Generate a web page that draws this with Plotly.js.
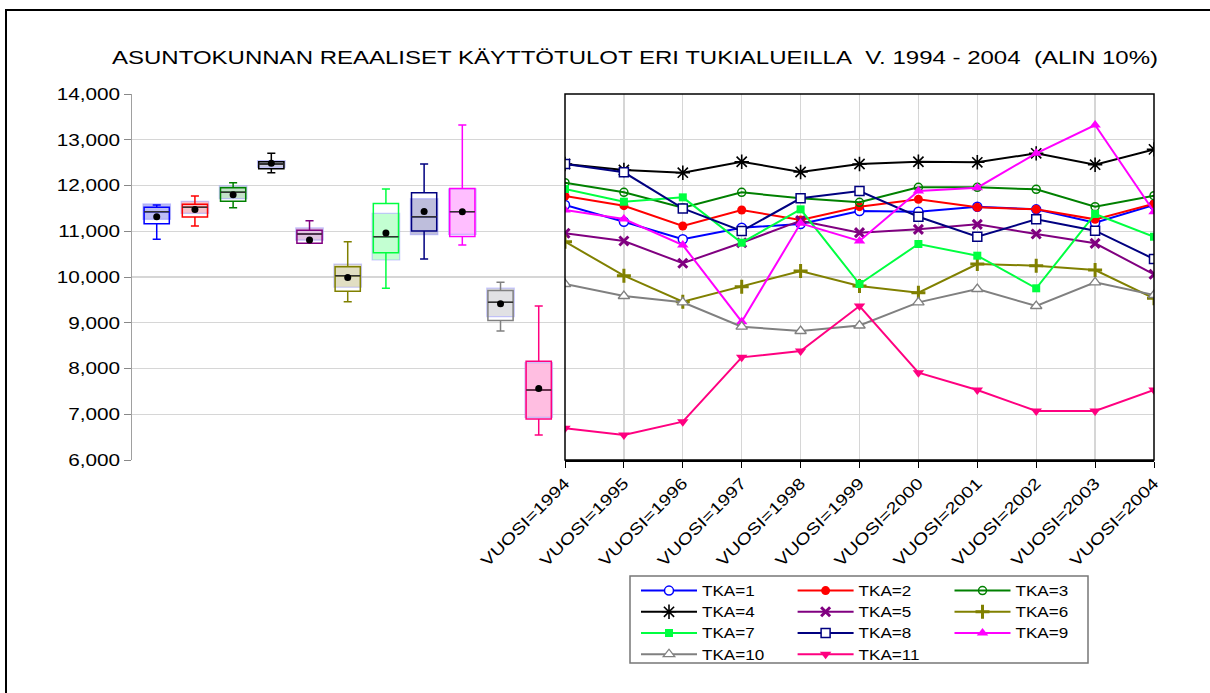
<!DOCTYPE html>
<html><head><meta charset="utf-8">
<script src="https://cdn.plot.ly/plotly-3.0.1.min.js"></script>
<style>
body{margin:0;background:#fff}
/* the reference's legend lettering is horizontally widened */
#chart .legendtext,
#chart [class^="legend"] text,
#chart .infolayer text:not(.gtitle){
  font-size:14px !important;
  font-family:'Liberation Sans', Arial, sans-serif !important;
  transform-box:fill-box; transform-origin:0 50%; transform:scaleX(1.22);
}
</style>
</head><body>
<div id="chart" style="width:1210px;height:693px"></div>
<script>
// ---------- data ----------
const years = [1994, 1995, 1996, 1997, 1998, 1999, 2000, 2001, 2002, 2003, 2004];
const yearLabels = ['VUOSI=1994','VUOSI=1995','VUOSI=1996','VUOSI=1997','VUOSI=1998','VUOSI=1999','VUOSI=2000','VUOSI=2001','VUOSI=2002','VUOSI=2003','VUOSI=2004'];
const seriesNames = ['TKA=1','TKA=2','TKA=3','TKA=4','TKA=5','TKA=6','TKA=7','TKA=8','TKA=9','TKA=10','TKA=11'];
const tka1  = [11574, 11209, 10824, 11078, 11159, 11443, 11428, 11537, 11479, 11187, 11575];
const tka2  = [11770, 11559, 11115, 11465, 11246, 11537, 11698, 11523, 11479, 11260, 11600];
const tka3  = [12061, 11851, 11515, 11851, 11720, 11633, 11960, 11960, 11916, 11537, 11778];
const tka4  = [12470, 12339, 12280, 12520, 12295, 12470, 12520, 12507, 12703, 12455, 12790];
const tka5  = [10955, 10787, 10300, 10750, 11231, 10969, 11042, 11151, 10940, 10736, 10059];
const tka6  = [10772, 10029,  9460,  9788, 10131,  9803,  9657, 10284, 10247, 10153,  9534];
const tka7  = [11923, 11646, 11741, 10750, 11479,  9847, 10721, 10466,  9753, 11377, 10880];
const tka8  = [12470, 12288, 11500, 11005, 11720, 11880, 11318, 10880, 11260, 11012, 10393];
const tka9  = [11465, 11268, 10699,  9023, 11173, 10787, 11880, 11952, 12703, 13322, 11428];
const tka10 = [ 9847,  9585,  9446,  8914,  8820,  8940,  9446,  9738,  9366,  9884,  9607];
const tka11 = [ 6692,  6546,  6838,  8244,  8383,  9366,  7909,  7530,  7071,  7071,  7530];
const allSeries = [tka1, tka2, tka3, tka4, tka5, tka6, tka7, tka8, tka9, tka10, tka11];

// ---------- styles ----------
const colors = ['#0000ff','#ff0000','#008000','#000000','#800080','#808000','#00ff40','#000080','#ff00ff','#808080','#ff0080'];
const bandColors = ['#bcbcf5','#f5c3cd','#c3e1c8','#cdcde1','#e1c3e1','#e1dec3','#c3ffd2','#bebedc','#ffbeff','#e1e1e4','#ffbee1'];
const markerStyles = [
  {symbol:'circle', color:'#ffffff', size:9, line:{color:'#0000ff', width:1.5}},
  {symbol:'circle', color:'#ff0000', size:9, line:{color:'#ff0000', width:0}},
  {symbol:'circle-open', color:'#008000', size:8, line:{width:1.5}},
  {symbol:'asterisk-open', color:'#000000', size:12, line:{width:1.6}},
  {symbol:'x-thin-open', color:'#800080', size:9, line:{width:3}},
  {symbol:'cross-thin-open', color:'#808000', size:10, line:{width:3}},
  {symbol:'square', color:'#00ff40', size:8, line:{color:'#00ff40', width:0}},
  {symbol:'square', color:'#ffffff', size:9, line:{color:'#000080', width:1.5}},
  {symbol:'triangle-up', color:'#ff00ff', size:10, line:{color:'#ff00ff', width:0}},
  {symbol:'triangle-up', color:'#ffffff', size:10, line:{color:'#808080', width:1.3}},
  {symbol:'triangle-down', color:'#ff0080', size:10, line:{color:'#ff0080', width:0}}
];
const legendOf = ['legend','legend2','legend3','legend','legend2','legend3','legend','legend2','legend3','legend','legend2'];
const FONT = 'Liberation Sans, Arial, sans-serif';

// ---------- statistics for box plots (Cleveland quantiles, 1.5 IQR whiskers) ----------
function quant(sorted, p) {
  const n = sorted.length;
  const h = p * n + 0.5;
  if (h <= 1) return sorted[0];
  if (h >= n) return sorted[n - 1];
  const lo = Math.floor(h);
  return sorted[lo - 1] + (h - lo) * (sorted[lo] - sorted[lo - 1]);
}
const positions = allSeries.map((s, i) => i + 1);
const stats = allSeries.map(s => {
  const srt = s.slice().sort((a, b) => a - b);
  const q1 = quant(srt, 0.25), med = quant(srt, 0.5), q3 = quant(srt, 0.75);
  const iqr = q3 - q1;
  const lf = srt.find(v => v >= q1 - 1.5 * iqr);
  const uf = srt.slice().reverse().find(v => v <= q3 + 1.5 * iqr);
  const mean = s.reduce((a, b) => a + b, 0) / s.length;
  const ci = 1.57 * iqr / Math.sqrt(s.length);
  return {lf, uf, q1, med, q3, mean, ci};
});

const traces = [];
// median confidence bands
traces.push({
  type:'bar', xaxis:'x', yaxis:'y', x: positions,
  base: stats.map(s => s.med - s.ci), y: stats.map(s => 2 * s.ci),
  width: 0.72, marker:{color: bandColors, line:{color:'rgba(140,140,255,0.45)', width:1.2}},
  showlegend:false, hoverinfo:'skip'
});
// boxes
allSeries.forEach((s, i) => {
  const st = stats[i];
  traces.push({
    type:'box', xaxis:'x', yaxis:'y', x:[positions[i]],
    q1:[st.q1], median:[st.med], q3:[st.q3], lowerfence:[st.lf], upperfence:[st.uf],
    width:0.66, whiskerwidth:0.32, fillcolor:'rgba(0,0,0,0)',
    line:{color: colors[i], width:1.5}, showlegend:false, hoverinfo:'skip'
  });
});
// black median lines
traces.push({
  type:'box', xaxis:'x', yaxis:'y', x: positions,
  q1: stats.map(s => s.med), median: stats.map(s => s.med), q3: stats.map(s => s.med),
  lowerfence: stats.map(s => s.med), upperfence: stats.map(s => s.med),
  width:0.66, whiskerwidth:0, fillcolor:'rgba(0,0,0,0)',
  line:{color:'#333333', width:1.5}, showlegend:false, hoverinfo:'skip'
});
// means
traces.push({
  type:'scatter', mode:'markers', xaxis:'x', yaxis:'y', x: positions, y: stats.map(s => s.mean),
  marker:{color:'#000000', size:7}, showlegend:false, hoverinfo:'skip'
});
// line series
allSeries.forEach((s, i) => {
  traces.push({
    type:'scatter', mode:'lines+markers', xaxis:'x2', yaxis:'y',
    x: years, y: s, name: seriesNames[i], legend: legendOf[i],
    line:{color: colors[i], width:2}, marker: markerStyles[i]
  });
});

const W = 1210, H = 693, L = 132, R = 56, T = 94, B = 233;
const pw = W - L - R, ph = H - T - B;
const px2x = p => (p - L) / pw;
const py2y = p => (H - B - p) / ph;
const split = px2x(565);

function makeLegend(xpx) {
  return {x: px2x(xpx), y: py2y(575), xanchor:'left', yanchor:'top',
    bgcolor:'rgba(0,0,0,0)', borderwidth:0, itemwidth:56, tracegroupgap:0,
    font:{family:FONT, size:14, color:'#000000'}};
}

const layout = {
  width: W, height: H, margin:{l:L, r:R, t:T, b:B},
  paper_bgcolor:'#fff', plot_bgcolor:'rgba(0,0,0,0)',
  font:{family:FONT, size:14, color:'#000'},
  title:{text:'ASUNTOKUNNAN REAALISET KÄYTTÖTULOT ERI TUKIALUEILLA\u00a0\u00a0V. 1994 - 2004\u00a0\u00a0(ALIN 10%)',
    font:{family:FONT, size:19, color:'#000'}, xref:'paper', x: px2x(635), xanchor:'center',
    yref:'container', y: 1 - 57 / H, yanchor:'middle'},
  xaxis:{domain:[0, split], range:[0.353, 11.688], visible:false, fixedrange:true},
  xaxis2:{domain:[split, 1], anchor:'y', range:[1994, 2004], tickvals: years, ticktext: yearLabels,
    tickangle:-45, ticks:'outside', ticklen:6, tickcolor:'#000', showgrid:true, gridcolor:'#d6d6d6', gridwidth:1.2,
    showline:true, linecolor:'#000', linewidth:1.5, zeroline:false, tickfont:{family:FONT, size:16, color:'#000'}},
  yaxis:{range:[6000, 14000], dtick:1000, tickformat:',', ticks:'outside', ticklen:7, tickcolor:'#888',
    showline:true, linecolor:'#a0a0a0', linewidth:1.5, showgrid:true, gridcolor:'#d6d6d6', gridwidth:1.2,
    zeroline:false, tickfont:{family:FONT, size:17, color:'#000'}},
  barmode:'overlay', boxmode:'overlay', showlegend:true,
  legend: makeLegend(636),
  legend2: makeLegend(792.6),
  legend3: makeLegend(949.5),
  shapes:[
    {type:'line', xref:'paper', yref:'y', x0: 0.002, x1: split - 0.002, y0: 14000, y1: 14000,
      line:{color:'#ffffff', width:2.5}, layer:'above'},
    {type:'rect', xref:'paper', yref:'paper', x0: px2x(6), x1: px2x(1260), y0: py2y(760), y1: py2y(10),
      line:{color:'#000', width:2}, fillcolor:'rgba(0,0,0,0)', layer:'above'},
    {type:'rect', xref:'x2 domain', yref:'y domain', x0:0, x1:1, y0:0, y1:1,
      line:{color:'#000', width:1.5}, fillcolor:'rgba(0,0,0,0)', layer:'above'},
    {type:'rect', xref:'paper', yref:'paper', x0: px2x(630), x1: px2x(1088), y0: py2y(663), y1: py2y(576),
      line:{color:'#777', width:1.5}, fillcolor:'rgba(0,0,0,0)', layer:'above'}
  ]
};

const gd = document.getElementById('chart');
// the reference's lettering is drawn horizontally widened; widen the text runs to match (idempotent)
function widenAll() {
  const widen = (sel, fn) => gd.querySelectorAll(sel).forEach(t => {
    t.removeAttribute('textLength');
    t.removeAttribute('lengthAdjust');
    const w = t.getComputedTextLength();
    if (w > 0) {
      t.setAttribute('textLength', fn(w));
      t.setAttribute('lengthAdjust', 'spacingAndGlyphs');
    }
  });
  widen('.gtitle', w => 1046);
  widen('.yaxislayer-above .ytick text', w => w * 1.22);
  widen('.xaxislayer-above .x2tick text', w => w * 1.24);
  gd.querySelectorAll('.infolayer [clip-path]').forEach(e => {
    if (e.querySelector('text')) e.removeAttribute('clip-path');
  });
}
Plotly.newPlot(gd, traces, layout, {staticPlot:true, displayModeBar:false}).then(() => {
  widenAll();
  gd.on('plotly_afterplot', widenAll);
  setTimeout(widenAll, 30);
});
</script>
</body></html>
